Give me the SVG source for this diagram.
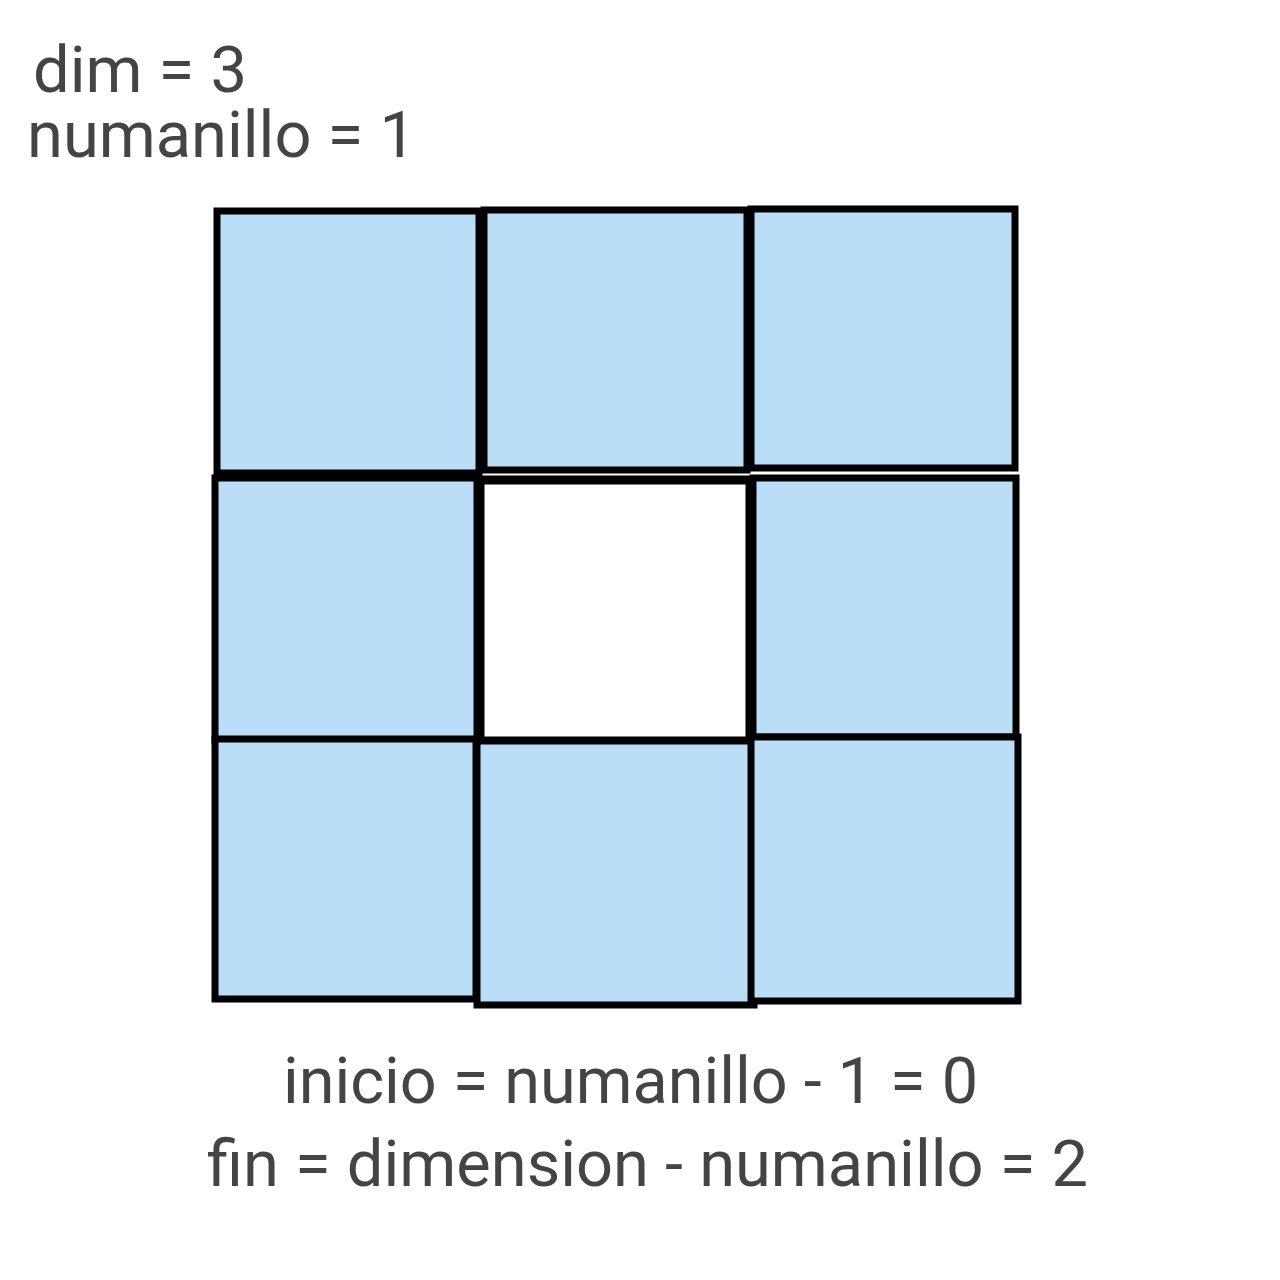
<svg xmlns="http://www.w3.org/2000/svg" width="1280" height="1280" viewBox="0 0 1280 1280">
<style>
.cell{fill:#bbdef8;stroke:#000;stroke-width:7}
.hole{fill:#fff;stroke:#000;stroke-width:9}
.t{font-family:Roboto,"Liberation Sans",sans-serif;fill:#444;font-size:64px}
.s{font-size:65px}
</style>
<rect width="1280" height="1280" fill="#fff"/>
<g id="labels-top">
<text class="t s" x="33" y="92">dim = 3</text>
<text class="t s" x="27" y="157">numanillo = 1</text>
</g>
<g id="cell-0-0"><rect class="cell" x="217" y="211" width="262" height="262"/></g>
<g id="cell-0-1"><rect class="cell" x="484" y="210" width="263" height="260"/></g>
<g id="cell-0-2"><rect class="cell" x="751" y="209" width="264" height="259"/></g>
<g id="cell-1-0"><rect class="cell" x="215" y="478" width="262" height="262"/></g>
<g id="cell-1-1"><rect class="hole" x="480" y="480" width="270" height="261"/></g>
<g id="cell-1-2"><rect class="cell" x="753" y="478" width="263" height="259"/></g>
<g id="cell-2-0"><rect class="cell" x="215" y="739" width="261" height="260"/></g>
<g id="cell-2-1"><rect class="cell" x="477" y="741" width="277" height="264"/></g>
<g id="cell-2-2"><rect class="cell" x="751" y="737" width="267" height="264"/></g>
<g id="labels-bottom">
<text class="t" x="283" y="1103" textLength="695" lengthAdjust="spacingAndGlyphs">inicio = numanillo - 1 = 0</text>
<text class="t" x="207" y="1186" textLength="881" lengthAdjust="spacingAndGlyphs">fin = dimension - numanillo = 2</text>
</g>
</svg>
